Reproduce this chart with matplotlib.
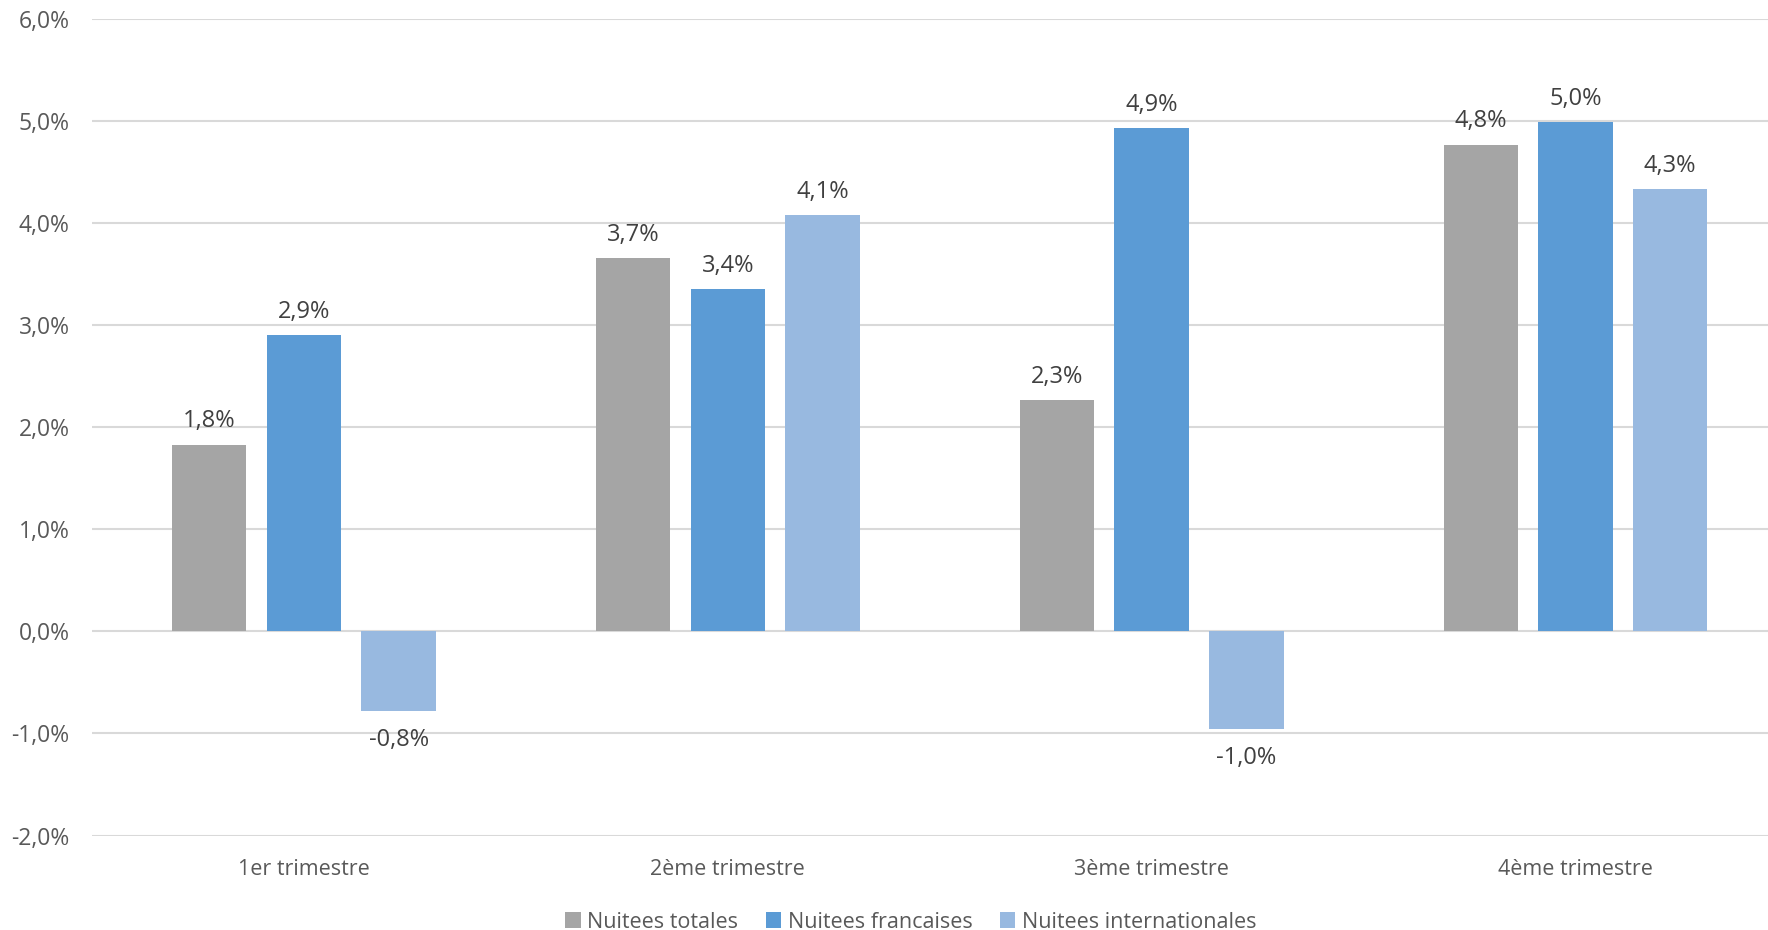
import matplotlib.pyplot as plt
import numpy as np

categories = ["1er trimestre", "2ème trimestre", "3ème trimestre", "4ème trimestre"]
series_names = ["Nuitees totales", "Nuitees francaises", "Nuitees internationales"]
totales = [1.83, 3.66, 2.27, 4.77]
francaises = [2.90, 3.35, 4.93, 4.99]
internationales = [-0.78, 4.08, -0.96, 4.33]
colors = ["#a5a5a5", "#5b9bd5", "#98b9e0"]
yticks = [-2, -1, 0, 1, 2, 3, 4, 5, 6]

plt.rcParams['font.family'] = ['Open Sans', 'DejaVu Sans']
textColor = "#595959"

fig = plt.figure(figsize=(17.68, 9.30), dpi=100)
ax = fig.add_axes([0.052, 0.1016, 0.959, 0.878])

x = np.arange(len(categories))
width = 0.1755
pitch = 0.2234
for i, (name, vals) in enumerate(zip(series_names, [totales, francaises, internationales])):
    pos = x + (i - 1) * pitch
    ax.bar(pos, vals, width=width, color=colors[i], label=name, zorder=3)
    for p, v in zip(pos, vals):
        label = "{:.1f}%".format(v).replace(".", ",")
        if v >= 0:
            ax.annotate(label, (p, v), xytext=(0, 8), textcoords="offset points",
                        ha="center", va="bottom", fontsize=17, color="#404040")
        else:
            ax.annotate(label, (p, v), xytext=(0, -12), textcoords="offset points",
                        ha="center", va="top", fontsize=17, color="#404040")

ax.set_xlim(-0.5, 3.5)
ax.set_ylim(-2, 6)
ax.set_yticks(yticks)
ax.set_yticklabels(["{:.1f}%".format(t).replace(".", ",") for t in yticks], fontsize=16.5, color=textColor)
ax.set_xticks(x)
ax.set_xticklabels(categories, fontsize=15.5, color=textColor)
ax.tick_params(axis="both", length=0)
ax.tick_params(axis="x", pad=17)
ax.tick_params(axis="y", pad=16)
ax.grid(axis="y", color="#d9d9d9", linewidth=1.5, zorder=0)
for s in ax.spines.values():
    s.set_visible(False)

ax.legend(loc="center", bbox_to_anchor=(0.483, -0.106), ncol=3, frameon=False,
          fontsize=15.5, handlelength=0.7, handleheight=0.7, columnspacing=1.3,
          handletextpad=0.3, labelcolor=textColor)

plt.savefig("out.png")
